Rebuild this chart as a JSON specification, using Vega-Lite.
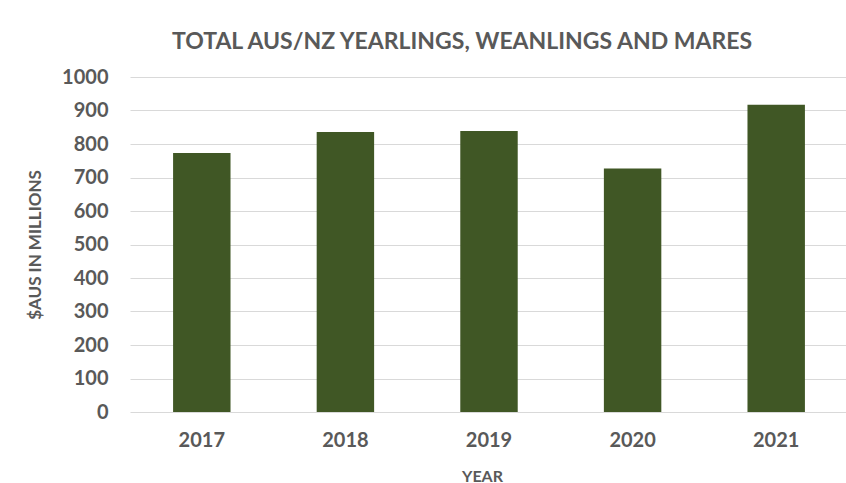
{
  "$schema": "https://vega.github.io/schema/vega-lite/v6.json",
  "autosize": "none",
  "width": 718,
  "height": 335,
  "padding": {"left": 130, "top": 77, "right": 0, "bottom": 71},
  "background": "white",
  "title": {
    "text": "TOTAL AUS/NZ  YEARLINGS, WEANLINGS AND MARES",
    "font": "Lato",
    "fontSize": 23,
    "fontWeight": "bold",
    "color": "#595959",
    "anchor": "middle",
    "dx": -27,
    "baseline": "alphabetic",
    "offset": -5
  },
  "data": {
    "values": [
      {"year": "2017", "value": 773},
      {"year": "2018", "value": 836},
      {"year": "2019", "value": 839},
      {"year": "2020", "value": 727},
      {"year": "2021", "value": 917}
    ]
  },
  "mark": {"type": "bar", "color": "#405725"},
  "encoding": {
    "x": {
      "field": "year",
      "type": "ordinal",
      "scale": {"paddingInner": 0.6, "paddingOuter": 0.3},
      "axis": {
        "title": "YEAR",
        "labelAngle": 0,
        "labelFont": "Lato",
        "labelFontSize": 20,
        "labelFontWeight": "bold",
        "labelColor": "#595959",
        "labelPadding": 18,
        "ticks": false,
        "domain": false,
        "titleFont": "Lato",
        "titleFontSize": 16,
        "titleFontWeight": "bold",
        "titleColor": "#595959",
        "titleX": 352,
        "titleY": 64,
        "titleBaseline": "middle",
        "titleAlign": "center"
      }
    },
    "y": {
      "field": "value",
      "type": "quantitative",
      "scale": {"domain": [0, 1000], "nice": false},
      "axis": {
        "title": "$AUS IN MILLIONS",
        "values": [0, 100, 200, 300, 400, 500, 600, 700, 800, 900, 1000],
        "format": "d",
        "labelFont": "Lato",
        "labelFontSize": 20,
        "labelFontWeight": "bold",
        "labelColor": "#595959",
        "labelPadding": 22,
        "ticks": false,
        "domain": false,
        "gridColor": "#D9D9D9",
        "gridWidth": 1,
        "titleFont": "Lato",
        "titleFontSize": 17,
        "titleFontWeight": "bold",
        "titleColor": "#595959",
        "titleAngle": -90,
        "titleX": -95,
        "titleY": 167.5,
        "titleAlign": "center",
        "titleBaseline": "middle"
      }
    }
  },
  "config": {"view": {"stroke": null}}
}
